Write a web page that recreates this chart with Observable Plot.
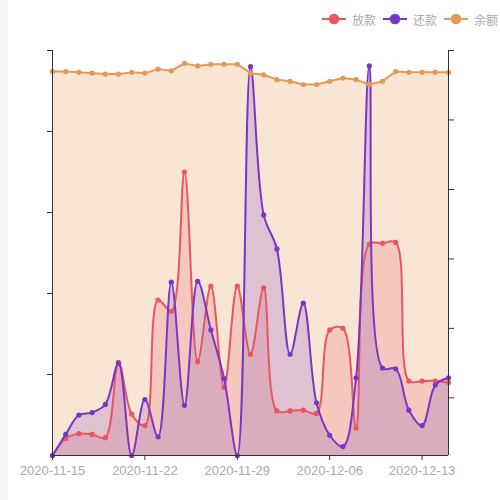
<!DOCTYPE html>
<html>
<head>
<meta charset="utf-8">
<script src="https://cdn.jsdelivr.net/npm/d3@7"></script>
<script src="https://cdn.jsdelivr.net/npm/@observablehq/plot@0.6"></script>
<style>
  html, body { margin: 0; padding: 0; background: #fff; }
  #wrap { position: relative; width: 500px; height: 500px; overflow: hidden; }
  #strip { position: absolute; left: 0; top: 0; width: 8px; height: 500px; background: #f3f3f8; }
  .item { position: absolute; top: 11px; height: 16px; display: flex; align-items: center;
          font: 12px "Noto Sans CJK SC", sans-serif; color: #aaa; }
  .item svg { margin-right: 6px; }
  #chart { position: absolute; left: 0; top: 0; }
</style>
</head>
<body>
<div id="wrap">
  <div id="chart"></div>
  <div id="strip"></div>
  <div id="legend"></div>
</div>
<script>
const dates = ["2020-11-15","2020-11-16","2020-11-17","2020-11-18","2020-11-19","2020-11-20","2020-11-21",
  "2020-11-22","2020-11-23","2020-11-24","2020-11-25","2020-11-26","2020-11-27","2020-11-28",
  "2020-11-29","2020-11-30","2020-12-01","2020-12-02","2020-12-03","2020-12-04","2020-12-05",
  "2020-12-06","2020-12-07","2020-12-08","2020-12-09","2020-12-10","2020-12-11","2020-12-12",
  "2020-12-13","2020-12-14","2020-12-15"];
const loan = [0,21,27,26,22,115,51,37,192,178,350,116,209,84,209,125,207,55,55,56,52,155,157,34,261,262,263,92,92,92,90];
const repay = [0,26,50,53,63,114,0,69,23,214,62,215,155,95,0,480,297,255,125,188,65,25,11,96,481,108,107,56,37,87,96];
const balance = [474,474,473,472,471,471,473,472,477,475,484,481,483,483,483,472,470,464,462,458,458,462,466,464,458,462,474,473,473,473,473];
const seriesNames = ["放款","还款","余额"];
const colors = ["#e8575f","#7a37c6","#e39a57"];
const xTickLabels = ["2020-11-15","2020-11-22","2020-11-29","2020-12-06","2020-12-13"];
const leftTicks = [100,200,300,400,500];
const rightTicks = [500,1000,1500,2000,2500,3000];
const rightDomain = [85,3000];
const yDomain = [0,500];

const parse = d3.utcParse("%Y-%m-%d");
const rows = dates.map((d,i) => ({date: parse(d), loan: loan[i], repay: repay[i], balance: balance[i]}));
const xDomain = [parse(dates[0]), parse(dates[dates.length-1])];
const toLeft = d3.scaleLinear().domain(rightDomain).range(yDomain);
const rightTickPos = rightTicks.map(toLeft);

const smooth = "catmull-rom";
const plot = Plot.plot({
  width: 500, height: 500,
  marginLeft: 52, marginRight: 52, marginTop: 50, marginBottom: 45,
  x: {type: "utc", domain: xDomain, axis: null},
  y: {domain: yDomain, axis: null},
  style: {fontFamily: "Liberation Sans, sans-serif"},
  marks: [
    Plot.areaY(rows, {x: "date", y: "balance", fill: colors[2], fillOpacity: 0.26}),
    Plot.areaY(rows, {x: "date", y: "loan", fill: colors[0], fillOpacity: 0.2, curve: smooth, clip: true}),
    Plot.areaY(rows, {x: "date", y: "repay", fill: colors[1], fillOpacity: 0.2, curve: smooth, clip: true}),
    Plot.lineY(rows, {x: "date", y: "loan", stroke: colors[0], strokeWidth: 2, curve: smooth, clip: true}),
    Plot.dot(rows, {x: "date", y: "loan", fill: colors[0], r: 2.6}),
    Plot.lineY(rows, {x: "date", y: "repay", stroke: colors[1], strokeWidth: 2, curve: smooth, clip: true}),
    Plot.dot(rows, {x: "date", y: "repay", fill: colors[1], r: 2.6}),
    Plot.lineY(rows, {x: "date", y: "balance", stroke: colors[2], strokeWidth: 2}),
    Plot.dot(rows, {x: "date", y: "balance", fill: colors[2], r: 2.6}),
    Plot.ruleX([xDomain[0]], {y1: yDomain[0], y2: yDomain[1], stroke: "#333", strokeWidth: 1}),
    Plot.ruleX([xDomain[1]], {y1: yDomain[0], y2: yDomain[1], stroke: "#333", strokeWidth: 1}),
    Plot.ruleY([0], {stroke: "#333", strokeWidth: 1}),
    Plot.axisY(leftTicks, {anchor: "left", tickSize: 5, tickFormat: () => "", stroke: "#333"}),
    Plot.axisY(rightTickPos, {anchor: "right", tickSize: 5, tickFormat: () => "", stroke: "#333"}),
    Plot.axisX(xTickLabels.map(parse), {anchor: "bottom", tickSize: 5, tickPadding: 5,
      tickFormat: d3.utcFormat("%Y-%m-%d"), stroke: "#333", fill: "#aaa", fontSize: 13})
  ]
});
document.getElementById("chart").appendChild(plot);

const legend = document.getElementById("legend");
const lefts = [322, 383, 444];
seriesNames.forEach((name, i) => {
  const item = document.createElement("div");
  item.className = "item";
  item.style.left = lefts[i] + "px";
  item.innerHTML = `<svg width="24" height="14"><line x1="0" x2="24" y1="7" y2="7" stroke="${colors[i]}" stroke-width="2"/><circle cx="12" cy="7" r="5.3" fill="${colors[i]}"/></svg><span>${name}</span>`;
  legend.appendChild(item);
});
</script>
</body>
</html>
